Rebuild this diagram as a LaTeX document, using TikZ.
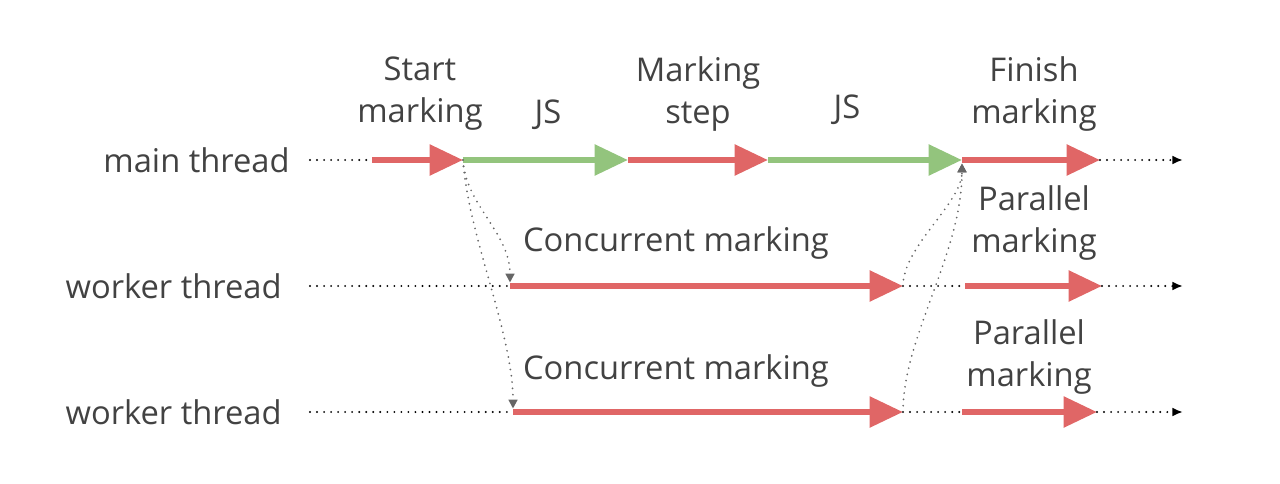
\documentclass[tikz,border=0pt]{standalone}
\usepackage{fontspec}
\setmainfont{Open Sans}
\usetikzlibrary{arrows.meta,positioning}
\definecolor{gcred}{HTML}{E06666}
\definecolor{gcgreen}{HTML}{93C47D}
\definecolor{txtgray}{HTML}{424242}

\begin{document}
\begin{tikzpicture}[>=Latex,
  lbl/.style={text=txtgray,font=\fontsize{18.6}{24}\selectfont,align=center,inner sep=0pt},
  phase/.style={line width=3.4pt,-{Triangle[length=19pt,width=17pt]}},
  idle/.style={line width=1.2pt,line cap=round,dash pattern=on 0pt off 4pt,black},
  sync/.style={line width=1.1pt,line cap=round,dash pattern=on 0pt off 3.6pt,black!60,-{Triangle[length=5pt,width=5pt]}}]
\useasboundingbox (0,0) rectangle (25.6,9.66);
% threads
\node[lbl,anchor=east] (mt) at (5.8,6.46) {main thread};
\node[lbl,anchor=east] (wa) at (5.64,3.94) {worker thread};
\node[lbl,anchor=east] (wb) at (5.64,1.42) {worker thread};
\foreach \n/\x in {0/6.2,1/7.44,2/9.26,3/12.56,4/15.36,5/19.24,6/22.0,7/23.66}{\coordinate (m\n) at (\x,6.46);}
\foreach \n/\x in {0/6.2,1/10.2,2/18.06,3/19.3,4/22.04,5/23.66}{\coordinate (a\n) at (\x,3.94);}
\foreach \n/\x in {0/6.2,1/10.26,2/18.06,3/19.24,4/21.94,5/23.66}{\coordinate (b\n) at (\x,1.42);}
% main thread
\draw[idle] (m0)--(m1);
\draw[phase,gcred] (m1)--(m2); \draw[phase,gcgreen] (m2)--(m3);
\draw[phase,gcred] (m3)--(m4); \draw[phase,gcgreen] (m4)--(m5);
\draw[phase,gcred] (m5)--(m6);
\draw[idle,-{Latex[length=6pt,width=5pt]}] (m6)--(m7);
% worker threads
\draw[idle] (a0)--(a1); \draw[phase,gcred] (a1)--(a2);
\draw[idle] (a2)--(a3); \draw[phase,gcred] (a3)--(a4);
\draw[idle,-{Latex[length=6pt,width=5pt]}] (a4)--(a5);
\draw[idle] (b0)--(b1); \draw[phase,gcred] (b1)--(b2);
\draw[idle] (b2)--(b3); \draw[phase,gcred] (b3)--(b4);
\draw[idle,-{Latex[length=6pt,width=5pt]}] (b4)--(b5);
% hand-offs
\draw[sync] (m2) .. controls +(0.05,-0.9) and +(0,1.0) .. ([yshift=2pt]a1);
\draw[sync] (m2) .. controls +(0.1,-1.5) and +(0,1.5) .. ([yshift=2pt]b1);
\draw[sync] (a2) .. controls +(0,0.8) and +(0,-0.8) .. ([yshift=-2pt]m5);
\draw[sync] (b2) .. controls +(0,1.5) and +(0,-1.8) .. ([yshift=-2pt]m5);
% phase labels
\node[lbl] (start) at (8.4,7.78) {Start\\marking};
\node[lbl] (js1) at (10.96,7.36) {JS};
\node[lbl] (step) at (13.96,7.78) {Marking\\step};
\node[lbl] (js2) at (16.94,7.46) {JS};
\node[lbl] (finish) at (20.68,7.78) {Finish\\marking};
\node[lbl] (conca) at (13.52,4.8) {Concurrent marking};
\node[lbl] (para) at (20.68,5.2) {Parallel\\marking};
\node[lbl] (concb) at (13.52,2.24) {Concurrent marking};
\node[lbl] (parb) at (20.58,2.52) {Parallel\\marking};
\end{tikzpicture}
\end{document}
